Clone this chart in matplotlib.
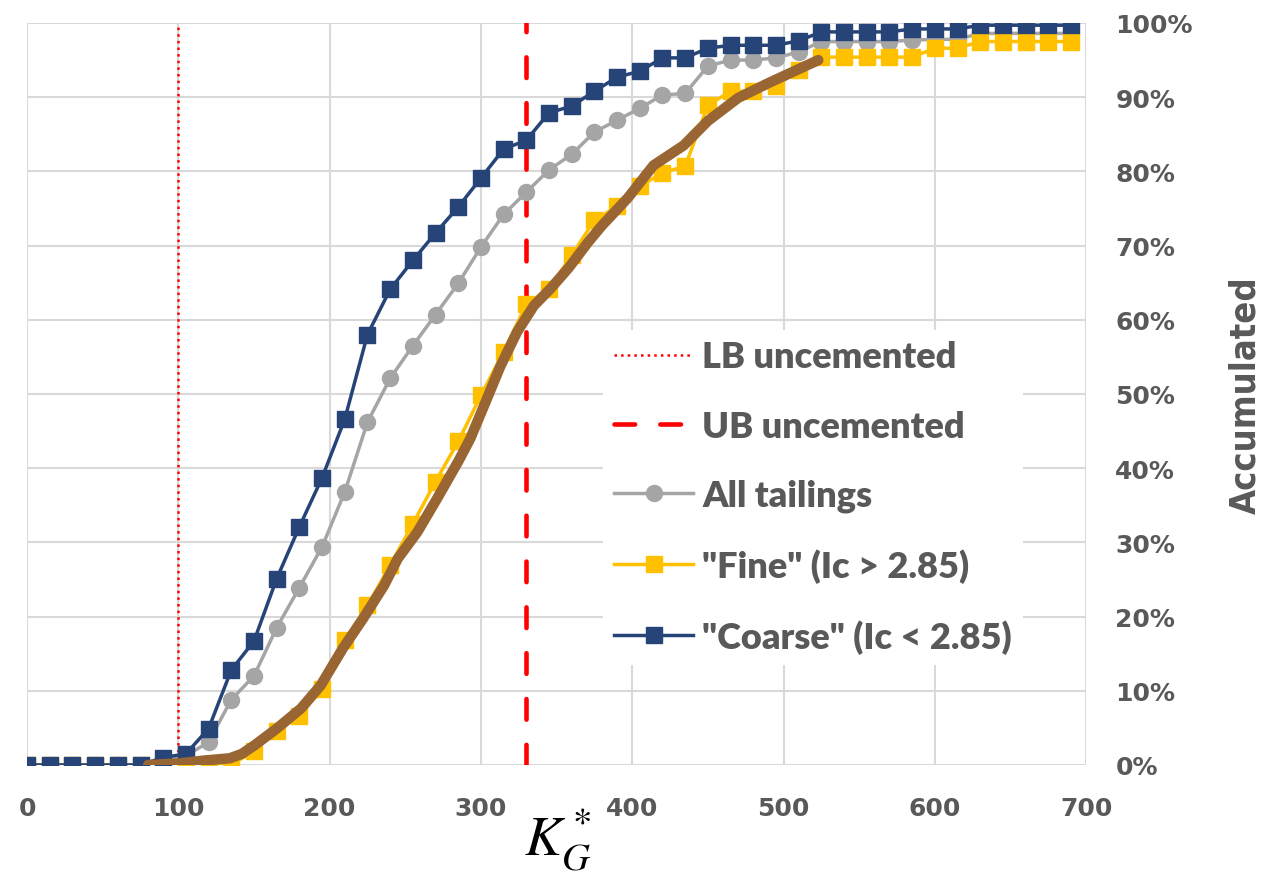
import matplotlib
matplotlib.use('Agg')
import matplotlib.pyplot as plt
from matplotlib.ticker import FuncFormatter

plt.rcParams['mathtext.fontset'] = 'stix'

# K_G* bins (step 15)
k_bins = list(range(0, 705, 15))

all_tailings = [0, 0, 0, 0, 0, 0, 0.5, 1.2, 3.1, 8.8, 12.0, 18.5, 23.9, 29.4, 36.8,
                46.2, 52.1, 56.5, 60.7, 64.9, 69.8, 74.2, 77.2, 80.2, 82.3, 85.3,
                86.9, 88.5, 90.3, 90.5, 94.2, 95.0, 95.0, 95.3, 96.1, 97.5, 97.5,
                97.5, 97.5, 97.7, 97.8, 97.8, 98.6, 98.6, 98.6, 98.6, 98.6]

fine = [0, 0, 0, 0, 0, 0, 0, 0, 0, 0, 1.9, 4.6, 6.6, 10.3, 16.8, 21.5, 26.9,
        32.5, 38.2, 43.6, 49.8, 55.7, 62.1, 64.2, 68.7, 73.4, 75.3, 78.0, 79.8,
        80.7, 88.9, 90.8, 90.8, 91.5, 93.7, 95.4, 95.4, 95.4, 95.4, 95.4, 96.6,
        96.6, 97.5, 97.5, 97.5, 97.5, 97.5]

coarse = [0, 0, 0, 0, 0, 0, 1.0, 1.5, 4.9, 12.8, 16.7, 25.1, 32.1, 38.7, 46.6,
          58.0, 64.1, 68.0, 71.7, 75.2, 79.1, 83.0, 84.2, 87.9, 88.8, 90.8, 92.7,
          93.5, 95.3, 95.3, 96.6, 97.0, 97.0, 97.0, 97.6, 98.8, 98.8, 98.8, 98.8,
          99.2, 99.2, 99.2, 99.7, 99.7, 99.7, 99.7, 99.7]

# fitted trend (brown curve)
fit_x = [80, 100, 117, 134, 142, 150, 165, 181, 194, 209, 222, 236, 245, 258,
         271, 285, 293, 302, 313, 324, 335, 346, 358, 371, 380, 397, 414, 434,
         450, 470, 490, 507, 523]
fit_y = [0, 0.2, 0.6, 0.9, 1.5, 2.6, 4.9, 7.6, 10.7, 15.8, 19.7, 24.2, 27.8,
         31.4, 35.9, 40.9, 44.0, 48.4, 53.8, 58.4, 61.9, 64.2, 67.0, 70.5, 72.7,
         76.4, 80.8, 83.5, 86.8, 89.9, 91.9, 93.5, 95.0]

lb_uncemented = 100
ub_uncemented = 330

fig = plt.figure(figsize=(12.7, 8.79), dpi=100)
ax = fig.add_axes([0.0213, 0.1286, 0.8339, 0.8441])

ax.axvline(lb_uncemented, color='red', ls=':', lw=1.8, zorder=2,
           label='LB uncemented')
ax.axvline(ub_uncemented, color='red', lw=3.3, dashes=(4.5, 5.5),
           dash_capstyle='round', zorder=2, label='UB uncemented')
ax.plot(k_bins, all_tailings, color='#a5a5a5', lw=2.5, marker='o', ms=11.5,
        zorder=3, label='All tailings')
ax.plot(k_bins, fine, color='#ffc000', lw=2.5, marker='s', ms=11, zorder=4,
        label='"Fine" (Ic > 2.85)')
ax.plot(k_bins, coarse, color='#264478', lw=2.5, marker='s', ms=11, zorder=5,
        label='"Coarse" (Ic < 2.85)')
ax.plot(fit_x, fit_y, color='#996633', lw=7.5, solid_capstyle='round',
        solid_joinstyle='round', zorder=6)

ax.set_xlim(0, 700)
ax.set_ylim(0, 100)
ax.set_xticks(range(0, 701, 100))
ax.set_yticks(range(0, 101, 10))
ax.yaxis.tick_right()
ax.yaxis.set_major_formatter(FuncFormatter(lambda v, p: f'{v:.0f}%'))
ax.grid(True, color='#d9d9d9', lw=1.5, zorder=0)
ax.set_axisbelow(True)
for s in ax.spines.values():
    s.set_visible(False)
ax.tick_params(length=0, labelsize=18, labelcolor='#595959')
ax.tick_params(axis='x', pad=22)
ax.tick_params(axis='y', pad=21)
for lab in ax.get_xticklabels() + ax.get_yticklabels():
    lab.set_fontweight('bold')

fig.text(1245 / 1270, 1 - 395 / 879, 'Accumulated', rotation=90,
         ha='center', va='center', fontsize=26, fontweight='bold',
         fontstretch='condensed', color='#595959')
fig.text(558 / 1270, 1 - 840 / 879, r'$K_G^*$', ha='center', va='center',
         fontsize=40)

leg = ax.legend(loc='center left', bbox_to_anchor=(0.544, 0.361),
                frameon=True, facecolor='white', edgecolor='none', framealpha=1,
                handlelength=2.2, handletextpad=0.25, labelspacing=1.0,
                borderpad=0.3, borderaxespad=0,
                prop={'family': 'Lato', 'size': 26, 'weight': 'heavy'})
for t in leg.get_texts():
    t.set_color('#595959')

fig.savefig('out.png', dpi=100)
